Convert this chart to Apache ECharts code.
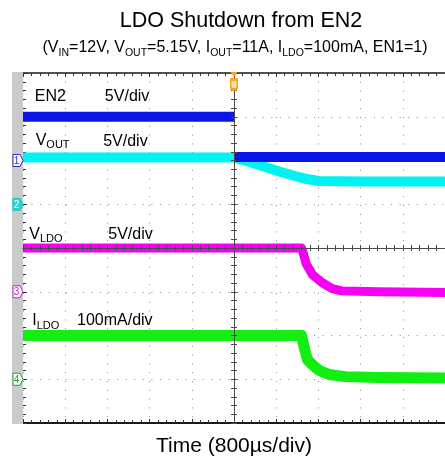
<!DOCTYPE html>
<html><head><meta charset="utf-8">
<script src="https://cdn.jsdelivr.net/npm/echarts@6/dist/echarts.min.js"></script>
<style>html,body{margin:0;padding:0;background:#fff}#c{width:445px;height:462px}</style>
</head><body><div id="c"></div>
<script>
// ---- data (oscilloscope divisions; x: time divs from trigger, y: screen divs from centre) ----
const en2Time  = [-5, 0, 0, 0, 5];
const en2Div   = [3.0, 3.0, null, 2.08, 2.08];
const voutTime = [-5, 0, 0.35, 0.69, 1.07, 1.47, 1.75, 2.01, 3.0, 4.0, 5];
const voutDiv  = [2.07, 2.07, 1.97, 1.87, 1.75, 1.64, 1.57, 1.53, 1.52, 1.52, 1.52];
const vldoTime = [-5, 1.6, 1.63, 1.71, 1.86, 2.10, 2.33, 2.56, 3.42, 5];
const vldoDiv  = [0, 0, -0.08, -0.36, -0.61, -0.80, -0.93, -0.98, -1.0, -1.02];
const ildoTime = [-5, 1.6, 1.67, 1.74, 1.86, 2.02, 2.25, 2.64, 3.42, 5];
const ildoDiv  = [-2.0, -2.0, -2.30, -2.55, -2.67, -2.80, -2.89, -2.94, -2.96, -2.97];
const channelNames = ['1', '2', '3', '4'];
const channelGround = [2, 1, -1, -3];

const FONT = '"Liberation Sans", Arial, sans-serif';
const pair = (t, v) => t.map((x, i) => [x, v[i] == null ? '-' : v[i]]);
const chart = echarts.init(document.getElementById('c'), null, {renderer: 'canvas'});

const tickCol = '#333';
function edgeX(pos, extra) {
  return Object.assign({
    type: 'value', min: -5, max: 5, interval: 1, position: pos,
    axisLine: {show: true, onZero: false, lineStyle: {color: '#1a1a1a', width: 1.5}},
    axisTick: {show: true, inside: true, length: 4, lineStyle: {color: tickCol}},
    minorTick: {show: true, splitNumber: 5, length: 3, lineStyle: {color: tickCol}},
    axisLabel: {show: false}, splitLine: {show: false}
  }, extra || {});
}
function centreX(inside) {
  return {
    type: 'value', min: -5, max: 5, interval: 1, position: 'bottom', z: 10,
    axisLine: {show: true, onZero: true, onZeroAxisIndex: 0, lineStyle: {color: '#4a4a4a', width: 1}},
    axisTick: {show: true, inside: inside, length: 3, lineStyle: {color: '#4a4a4a'}},
    minorTick: {show: true, splitNumber: 5, length: 3, lineStyle: {color: '#4a4a4a'}},
    axisLabel: {show: false}, splitLine: {show: false}
  };
}
function centreY(inside) {
  return {
    type: 'value', min: -4, max: 4, interval: 1, position: 'left', z: 10,
    axisLine: {show: true, onZero: true, onZeroAxisIndex: 0, lineStyle: {color: '#4a4a4a', width: 1}},
    axisTick: {show: true, inside: inside, length: 3, lineStyle: {color: '#4a4a4a'}},
    minorTick: {show: true, splitNumber: 5, length: 3, lineStyle: {color: '#4a4a4a'}},
    axisLabel: {show: false}, splitLine: {show: false}
  };
}

const subRich = {
  m: {fontSize: 16, fontWeight: 'normal', fontFamily: FONT, color: '#000', lineHeight: 18},
  s: {fontSize: 10.5, fontWeight: 'normal', fontFamily: FONT, color: '#000', lineHeight: 18, verticalAlign: 'bottom', padding: [0, 0, -2, 0]}
};

const option = {
  animation: false,
  backgroundColor: '#fff',
  title: [
    {text: 'LDO Shutdown from EN2', left: 241, top: 10, padding: 0, textAlign: 'center',
     textStyle: {fontSize: 21.5, fontWeight: 'normal', color: '#000', fontFamily: FONT}},
    {text: '{m|(V}{s|IN}{m|=12V, V}{s|OUT}{m|=5.15V, I}{s|OUT}{m|=11A, I}{s|LDO}{m|=100mA, EN1=1)}',
     left: 235, top: 39, padding: 0, textAlign: 'center',
     textStyle: {fontWeight: 'normal', fontFamily: FONT, rich: subRich}}
  ],
  grid: {left: 23, top: 73, width: 428, height: 352, containLabel: false},
  xAxis: [
    edgeX('bottom', {
      axisLine: {show: true, onZero: false, lineStyle: {color: '#1a1a1a', width: 2}},
      splitLine: {show: true, lineStyle: {color: '#8a8a8a', width: 1, type: [1, 7.8]}},
      name: 'Time (800\u00b5s/div)', nameLocation: 'middle', nameGap: 13,
      nameTextStyle: {fontSize: 21, color: '#000', fontFamily: FONT}
    }),
    edgeX('top'),
    centreX(true),
    centreX(false)
  ],
  yAxis: [
    {
      type: 'value', min: -4, max: 4, interval: 1, position: 'left',
      axisLine: {show: false, onZero: false},
      axisTick: {show: true, inside: true, length: 4, lineStyle: {color: tickCol}},
      minorTick: {show: true, splitNumber: 5, length: 3, lineStyle: {color: tickCol}},
      axisLabel: {show: false},
      splitLine: {show: true, lineStyle: {color: '#8a8a8a', width: 1, type: [1, 7.56]}}
    },
    centreY(true),
    centreY(false)
  ],
  series: [
    {name: 'VLDO', type: 'line', data: pair(vldoTime, vldoDiv), showSymbol: false, symbol: 'none',
     lineStyle: {color: '#f500f5', width: 9, cap: 'butt', join: 'round'}, connectNulls: false},
    {name: 'ILDO', type: 'line', data: pair(ildoTime, ildoDiv), showSymbol: false, symbol: 'none',
     lineStyle: {color: '#12ee12', width: 11, cap: 'butt', join: 'round'}, connectNulls: false},
    {name: 'VOUT', type: 'line', data: pair(voutTime, voutDiv), showSymbol: false, symbol: 'none',
     lineStyle: {color: '#00f2f2', width: 10, cap: 'butt', join: 'round'}, connectNulls: false},
    {name: 'EN2', type: 'line', data: pair(en2Time, en2Div), showSymbol: false, symbol: 'none',
     lineStyle: {color: '#0a14e6', width: 10, cap: 'butt', join: 'round'}, connectNulls: false}
  ]
};
chart.setOption(option);

// ---- decorations anchored to the axes ----
const px = (x, y) => chart.convertToPixel({xAxisIndex: 0, yAxisIndex: 0}, [x, y]);
const pTop = px(-5, 4), pBot = px(-5, -4), pTrig = px(0, 4);
const chanColors = [
  {stroke: '#2b2bd0', fill: '#ffffff', txt: '#2b2bd0'},
  {stroke: '#18c8c8', fill: '#22d4d4', txt: '#ffffff'},
  {stroke: '#c020c0', fill: '#ffffff', txt: '#c020c0'},
  {stroke: '#20a020', fill: '#ffffff', txt: '#20a020'}
];
const g = [];
g.push({type: 'rect', shape: {x: pTop[0] - 11, y: pTop[1] - 1, width: 11, height: pBot[1] - pTop[1] + 2},
  style: {fill: '#cacaca'}, z: 1, silent: true});
channelNames.forEach((n, i) => {
  const p = px(-5, channelGround[i]);
  const c = chanColors[i];
  g.push({type: 'polygon', z: 20, silent: true,
    shape: {points: [[p[0] - 10, p[1] - 6], [p[0] - 3, p[1] - 6], [p[0], p[1]], [p[0] - 3, p[1] + 6], [p[0] - 10, p[1] + 6]]},
    style: {fill: c.fill, stroke: c.stroke, lineWidth: 1}});
  g.push({type: 'text', z: 21, silent: true, x: p[0] - 6.5, y: p[1] + 0.5,
    style: {text: n, fill: c.txt, font: '10px ' + FONT, align: 'center', verticalAlign: 'middle'}});
});
// trigger marker
g.push({type: 'polygon', z: 20, silent: true,
  shape: {points: [[pTrig[0] - 3.5, pTrig[1] - 1], [pTrig[0] + 3.5, pTrig[1] - 1], [pTrig[0], pTrig[1] + 4]]},
  style: {fill: '#f5a623'}});
g.push({type: 'rect', z: 20, silent: true,
  shape: {x: pTrig[0] - 4, y: pTrig[1] + 5, width: 8, height: 13, r: [1, 1, 4, 4]},
  style: {fill: '#f5a623'}});
g.push({type: 'rect', z: 21, silent: true,
  shape: {x: pTrig[0] - 2.5, y: pTrig[1] + 8, width: 5, height: 7, r: [0, 0, 2, 2]},
  style: {fill: '#fde3b0'}});
g.push({type: 'rect', z: 22, silent: true,
  shape: {x: pTrig[0] - 4, y: pTrig[1] + 6.5, width: 8, height: 1.5},
  style: {fill: '#f5a623'}});

// channel labels (positioned in division coordinates)
const lab = (t, sub, xd, yd) => {
  const p = px(xd, yd);
  const txt = sub ? '{a|' + t + '}{b|' + sub + '}' : '{a|' + t + '}';
  g.push({type: 'text', z: 15, silent: true, x: p[0], y: p[1],
    style: {text: txt, verticalAlign: 'middle', align: 'left',
      rich: {a: {font: '16px ' + FONT, fill: '#000', lineHeight: 18},
             b: {font: '11px ' + FONT, fill: '#000', lineHeight: 18, verticalAlign: 'bottom', padding: [0, 0, -1, 0]}}}});
};
lab('EN2', null, -4.72, 3.47);
lab('5V/div', null, -3.06, 3.45);
lab('V', 'OUT', -4.7, 2.45);
lab('5V/div', null, -3.1, 2.44);
lab('V', 'LDO', -4.85, 0.30);
lab('5V/div', null, -2.98, 0.30);
lab('I', 'LDO', -4.78, -1.67);
lab('100mA/div', null, -3.72, -1.67);
chart.setOption({graphic: g});
</script>
</body></html>
